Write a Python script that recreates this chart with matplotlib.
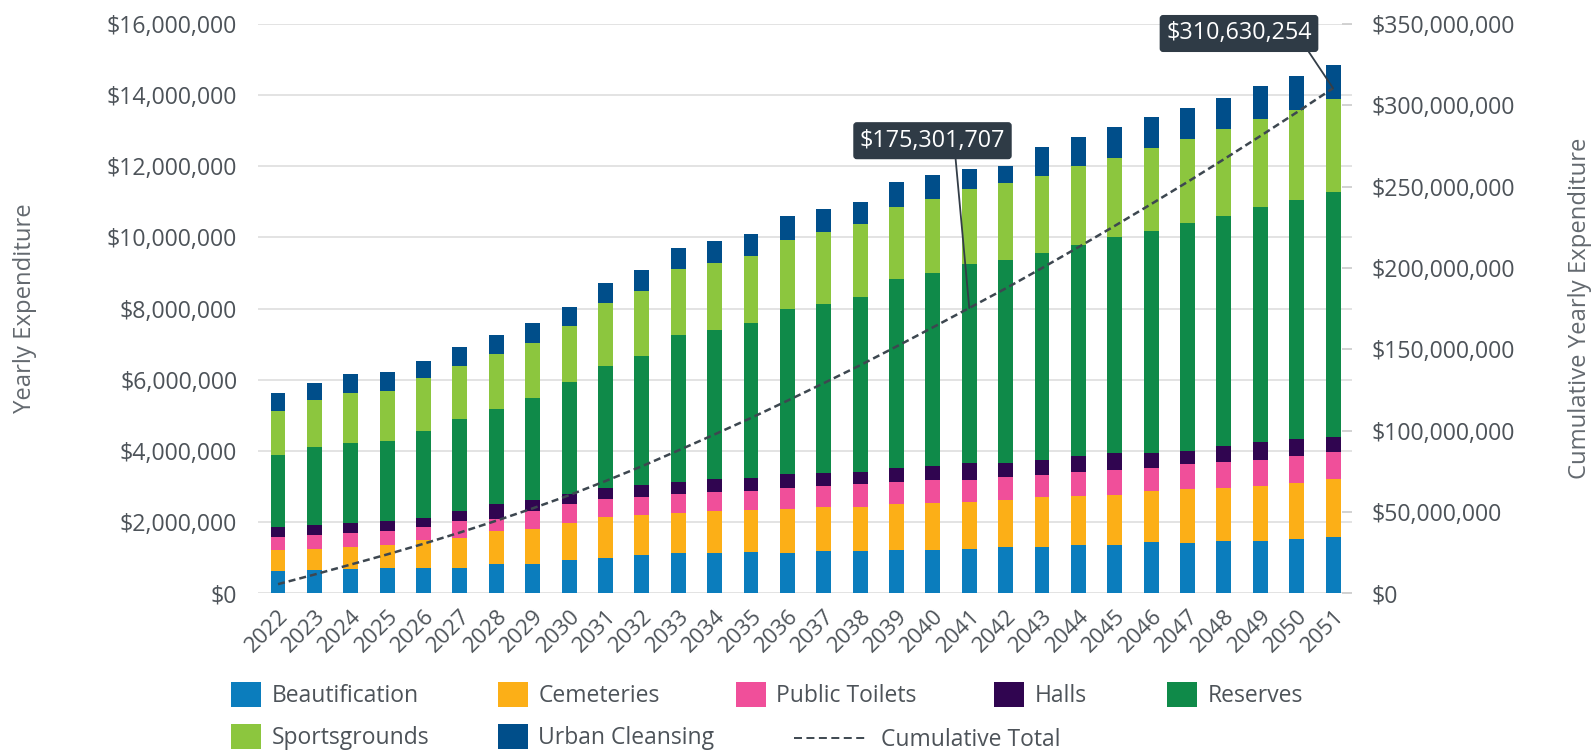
import numpy as np
import matplotlib
matplotlib.use('Agg')
import matplotlib.pyplot as plt
from matplotlib.patches import Patch
from matplotlib.lines import Line2D
from matplotlib.ticker import FuncFormatter, MultipleLocator

# ---------------- data (values in $ millions) ----------------
years = [str(y) for y in range(2022, 2052)]

beautification = [0.63, 0.66, 0.68, 0.71, 0.71, 0.71, 0.82, 0.82, 0.93, 0.99,
                  1.07, 1.13, 1.13, 1.17, 1.13, 1.18, 1.18, 1.23, 1.23, 1.25,
                  1.29, 1.29, 1.35, 1.37, 1.44, 1.42, 1.47, 1.47, 1.54, 1.57]
cemeteries = [0.60, 0.59, 0.62, 0.66, 0.80, 0.85, 0.93, 0.99, 1.05, 1.16,
              1.12, 1.12, 1.17, 1.16, 1.25, 1.24, 1.24, 1.27, 1.32, 1.33,
              1.34, 1.41, 1.39, 1.40, 1.43, 1.50, 1.48, 1.54, 1.57, 1.64]
public_toilets = [0.36, 0.38, 0.40, 0.39, 0.36, 0.47, 0.33, 0.51, 0.52, 0.50,
                  0.51, 0.55, 0.55, 0.54, 0.59, 0.60, 0.65, 0.63, 0.63, 0.60,
                  0.63, 0.63, 0.66, 0.70, 0.66, 0.70, 0.74, 0.75, 0.75, 0.77]
halls = [0.28, 0.29, 0.28, 0.27, 0.26, 0.27, 0.42, 0.30, 0.29, 0.31,
         0.33, 0.33, 0.35, 0.38, 0.38, 0.37, 0.35, 0.40, 0.40, 0.47,
         0.41, 0.43, 0.46, 0.46, 0.40, 0.38, 0.46, 0.49, 0.48, 0.42]
reserves = [2.01, 2.18, 2.24, 2.24, 2.43, 2.61, 2.68, 2.88, 3.14, 3.44,
            3.65, 4.12, 4.21, 4.34, 4.64, 4.74, 4.92, 5.29, 5.43, 5.60,
            5.69, 5.80, 5.92, 6.07, 6.25, 6.41, 6.45, 6.61, 6.72, 6.89]
sportsgrounds = [1.25, 1.33, 1.42, 1.42, 1.49, 1.47, 1.55, 1.54, 1.57, 1.75,
                 1.83, 1.87, 1.87, 1.89, 1.95, 2.03, 2.04, 2.05, 2.07, 2.12,
                 2.18, 2.17, 2.22, 2.24, 2.33, 2.36, 2.46, 2.46, 2.53, 2.59]
urban_cleansing = [0.49, 0.48, 0.52, 0.52, 0.49, 0.55, 0.52, 0.56, 0.55, 0.57,
                   0.59, 0.58, 0.62, 0.62, 0.66, 0.64, 0.62, 0.68, 0.67, 0.56,
                   0.46, 0.82, 0.83, 0.86, 0.87, 0.88, 0.87, 0.93, 0.95, 0.98]

series_names = ['Beautification', 'Cemeteries', 'Public Toilets', 'Halls',
                'Reserves', 'Sportsgrounds', 'Urban Cleansing']
series_values = [beautification, cemeteries, public_toilets, halls,
                 reserves, sportsgrounds, urban_cleansing]
series_colors = ['#0b7dbd', '#fcaf17', '#f04f9a', '#300550',
                 '#0f8a49', '#8cc63e', '#004e8a']
line_name = 'Cumulative Total'

annot_index = [19, 29]
annot_text = ['$175,301,707', '$310,630,254']

# ---------------- figure ----------------
W, H = 1595, 756
plt.rcParams['font.family'] = ['Open Sans', 'DejaVu Sans']
fig = plt.figure(figsize=(W / 100, H / 100), dpi=100)
fig.patch.set_facecolor('white')

ax_l, ax_r, ax_t, ax_b = 258, 1352, 24, 593.3
ax = fig.add_axes([ax_l / W, 1 - ax_b / H, (ax_r - ax_l) / W, (ax_b - ax_t) / H])

tick_color = '#4d5359'
title_color = '#63696f'

x = np.arange(len(years))
bottom = np.zeros(len(years))
for name, vals, col in zip(series_names, series_values, series_colors):
    v = np.array(vals) * 1e6
    ax.bar(x, v, width=0.41, bottom=bottom, color=col, label=name,
           linewidth=0, zorder=2)
    bottom += v

totals = bottom
cumulative = np.cumsum(totals)

ax.set_xlim(-0.55, 29.52)
ax.set_ylim(0, 16e6)
ax.yaxis.set_major_locator(MultipleLocator(2e6))
money = FuncFormatter(lambda v, p: '${:,.0f}'.format(v))
ax.yaxis.set_major_formatter(money)
ax.yaxis.grid(True, color='#dedede', linewidth=1.2, zorder=0)
ax.set_axisbelow(True)
for s in ax.spines.values():
    s.set_visible(False)
ax.tick_params(axis='y', length=0, pad=15, labelsize=16.7, labelcolor=tick_color)
ax.set_xticks(x)
ax.set_xticklabels(years, rotation=45, ha='right', rotation_mode='anchor')
ax.tick_params(axis='x', length=0, pad=9, labelsize=16, labelcolor=tick_color)

ax.set_ylabel('Yearly Expenditure', fontsize=17.2, color=title_color, va='center')
ax.yaxis.set_label_coords((25 - ax_l) / (ax_r - ax_l), 0.5)

# right axis
ax2 = ax.twinx()
ax2.set_ylim(0, 350e6)
ax2.yaxis.set_major_locator(MultipleLocator(50e6))
ax2.yaxis.set_major_formatter(money)
for s in ax2.spines.values():
    s.set_visible(False)
ax2.tick_params(axis='y', direction='in', length=7, width=1.3, color='#cfcfcf',
                pad=13.7, labelsize=16.7, labelcolor=tick_color)
ax2.set_ylabel('Cumulative Yearly Expenditure', fontsize=17.2, color=title_color,
               va='center', rotation=90)
ax2.yaxis.set_label_coords((1580 - ax_l) / (ax_r - ax_l), 0.5)

line_color = '#3d4750'
ax2.plot(x, cumulative, linestyle=(0, (2.8, 1.6)), color=line_color, lw=1.8,
         zorder=5, label=line_name)

# annotations
box_centers = [(932.5, 140.7), (1239, 33.5)]
rel_x = [0.655, 0.95]
for idx, txt, (cx, cy), rx in zip(annot_index, annot_text, box_centers, rel_x):
    ax2.annotate(txt, xy=(x[idx], cumulative[idx]), xytext=(cx, H - cy),
                 textcoords='figure pixels', ha='center', va='center',
                 color='white', fontsize=16.8, zorder=10,
                 bbox=dict(boxstyle='round,pad=0.25,rounding_size=0.12',
                           fc='#2f3b46', ec='#2f3b46'),
                 arrowprops=dict(arrowstyle='-', color='#333d47', lw=1.3,
                                 relpos=(rx, 0), shrinkA=0, shrinkB=0))

# legend (one entry per position, Highcharts-like layout)
fs_leg = 16.5
leg_pos = [(231, 695), (498, 695), (736, 695), (994, 695), (1167, 695),
           (231, 737), (498, 737)]
for name, col, (lx, ly) in zip(series_names, series_colors, leg_pos):
    fig.legend(handles=[Patch(facecolor=col, edgecolor='none')], labels=[name],
               loc='center left', bbox_to_anchor=(lx / W, 1 - ly / H),
               frameon=False, borderpad=0, borderaxespad=0,
               handlelength=1.31, handleheight=1.31, handletextpad=0.45,
               fontsize=fs_leg, labelcolor=tick_color)
fig.legend(handles=[Line2D([0], [0], color=line_color, lw=1.4,
                           linestyle=(0, (4.1, 2.3)))],
           labels=[line_name], loc='center left',
           bbox_to_anchor=(794 / W, 1 - 740 / H), frameon=False, borderpad=0,
           borderaxespad=0, handlelength=3.14, handletextpad=0.65,
           fontsize=fs_leg, labelcolor=tick_color)

fig.savefig('out.png', dpi=100, facecolor='white')
